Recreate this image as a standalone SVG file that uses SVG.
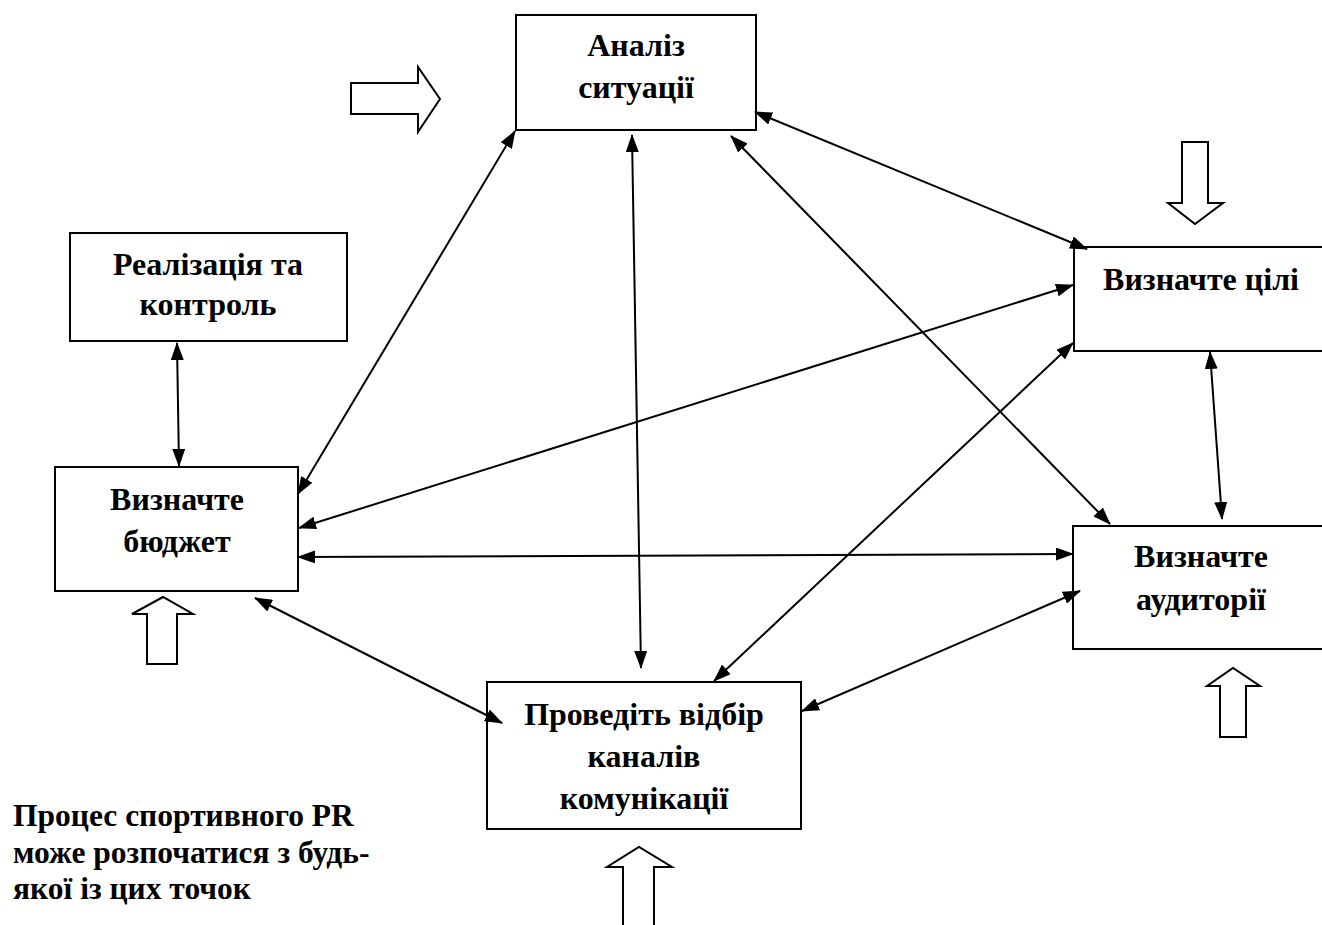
<svg xmlns="http://www.w3.org/2000/svg" width="1322" height="925" viewBox="0 0 1322 925">
<defs>
<marker id="ah" markerUnits="userSpaceOnUse" markerWidth="18" markerHeight="13" refX="17" refY="6.5" orient="auto-start-reverse" viewBox="0 0 18 13">
<path d="M0,0 L18,6.5 L0,13 z" fill="#000"/>
</marker>
<style>
.box{fill:#fff;stroke:#000;stroke-width:2}
.t{font-family:"Liberation Serif","Times New Roman",serif;font-weight:bold;font-size:32px;fill:#000;text-anchor:middle}
.n{font-family:"Liberation Serif","Times New Roman",serif;font-weight:bold;font-size:31.5px;fill:#000}
.c{stroke:#000;stroke-width:2;fill:none;marker-start:url(#ah);marker-end:url(#ah)}
.h{fill:#fff;stroke:#000;stroke-width:2;stroke-linejoin:miter}
</style>
</defs>
<rect width="1322" height="925" fill="#fff"/>
<g id="analiz">
<rect class="box" x="516" y="15" width="240" height="115"/>
<text class="t" x="636" y="56">Аналіз</text>
<text class="t" x="636" y="98">ситуації</text>
</g>
<g id="realizatsiia">
<rect class="box" x="70" y="233" width="277" height="108"/>
<text class="t" x="208" y="275">Реалізація та</text>
<text class="t" x="208" y="315">контроль</text>
</g>
<g id="tsili">
<rect class="box" x="1074" y="247" width="260" height="104"/>
<text class="t" x="1201" y="290">Визначте цілі</text>
</g>
<g id="biudzhet">
<rect class="box" x="55" y="467" width="243" height="124"/>
<text class="t" x="177" y="510">Визначте</text>
<text class="t" x="177" y="552">бюджет</text>
</g>
<g id="audytorii">
<rect class="box" x="1073" y="526" width="261" height="123"/>
<text class="t" x="1201" y="567">Визначте</text>
<text class="t" x="1201" y="610">аудиторії</text>
</g>
<g id="kanaly">
<rect class="box" x="487" y="682" width="314" height="147"/>
<text class="t" x="644" y="725">Проведіть відбір</text>
<text class="t" x="644" y="767">каналів</text>
<text class="t" x="644" y="809">комунікації</text>
</g>
<g id="start-arrows">
<polygon class="h" points="351,83 418,83 418,67 440,99 418,132 418,114 351,114"/>
<polygon class="h" points="1182,142 1208,142 1208,203 1223,203 1195,224 1168,203 1182,203"/>
<polygon class="h" points="147,664 147,614 132,614 163,597 193,614 177,614 177,664"/>
<polygon class="h" points="623,930 623,867 607,867 639,847 672,867 654,867 654,930"/>
<polygon class="h" points="1220,737 1220,686 1207,686 1233,668 1260,686 1246,686 1246,737"/>
</g>
<g id="connectors">
<line class="c" x1="177" y1="343" x2="179" y2="466"/>
<line class="c" x1="515" y1="131" x2="298" y2="494"/>
<line class="c" x1="632" y1="135" x2="641" y2="668"/>
<line class="c" x1="755" y1="112" x2="1087" y2="249"/>
<line class="c" x1="731" y1="136" x2="1110" y2="524"/>
<line class="c" x1="1073" y1="285" x2="299" y2="528"/>
<line class="c" x1="298" y1="557" x2="1073" y2="554"/>
<line class="c" x1="255" y1="598" x2="502" y2="723"/>
<line class="c" x1="1073" y1="343" x2="714" y2="681"/>
<line class="c" x1="1080" y1="591" x2="802" y2="711"/>
<line class="c" x1="1210" y1="352" x2="1222" y2="519"/>
</g>
<g id="note">
<text class="n" x="13" y="826">Процес спортивного PR</text>
<text class="n" x="13" y="863">може розпочатися з будь-</text>
<text class="n" x="13" y="899">якої із цих точок</text>
</g>
</svg>
